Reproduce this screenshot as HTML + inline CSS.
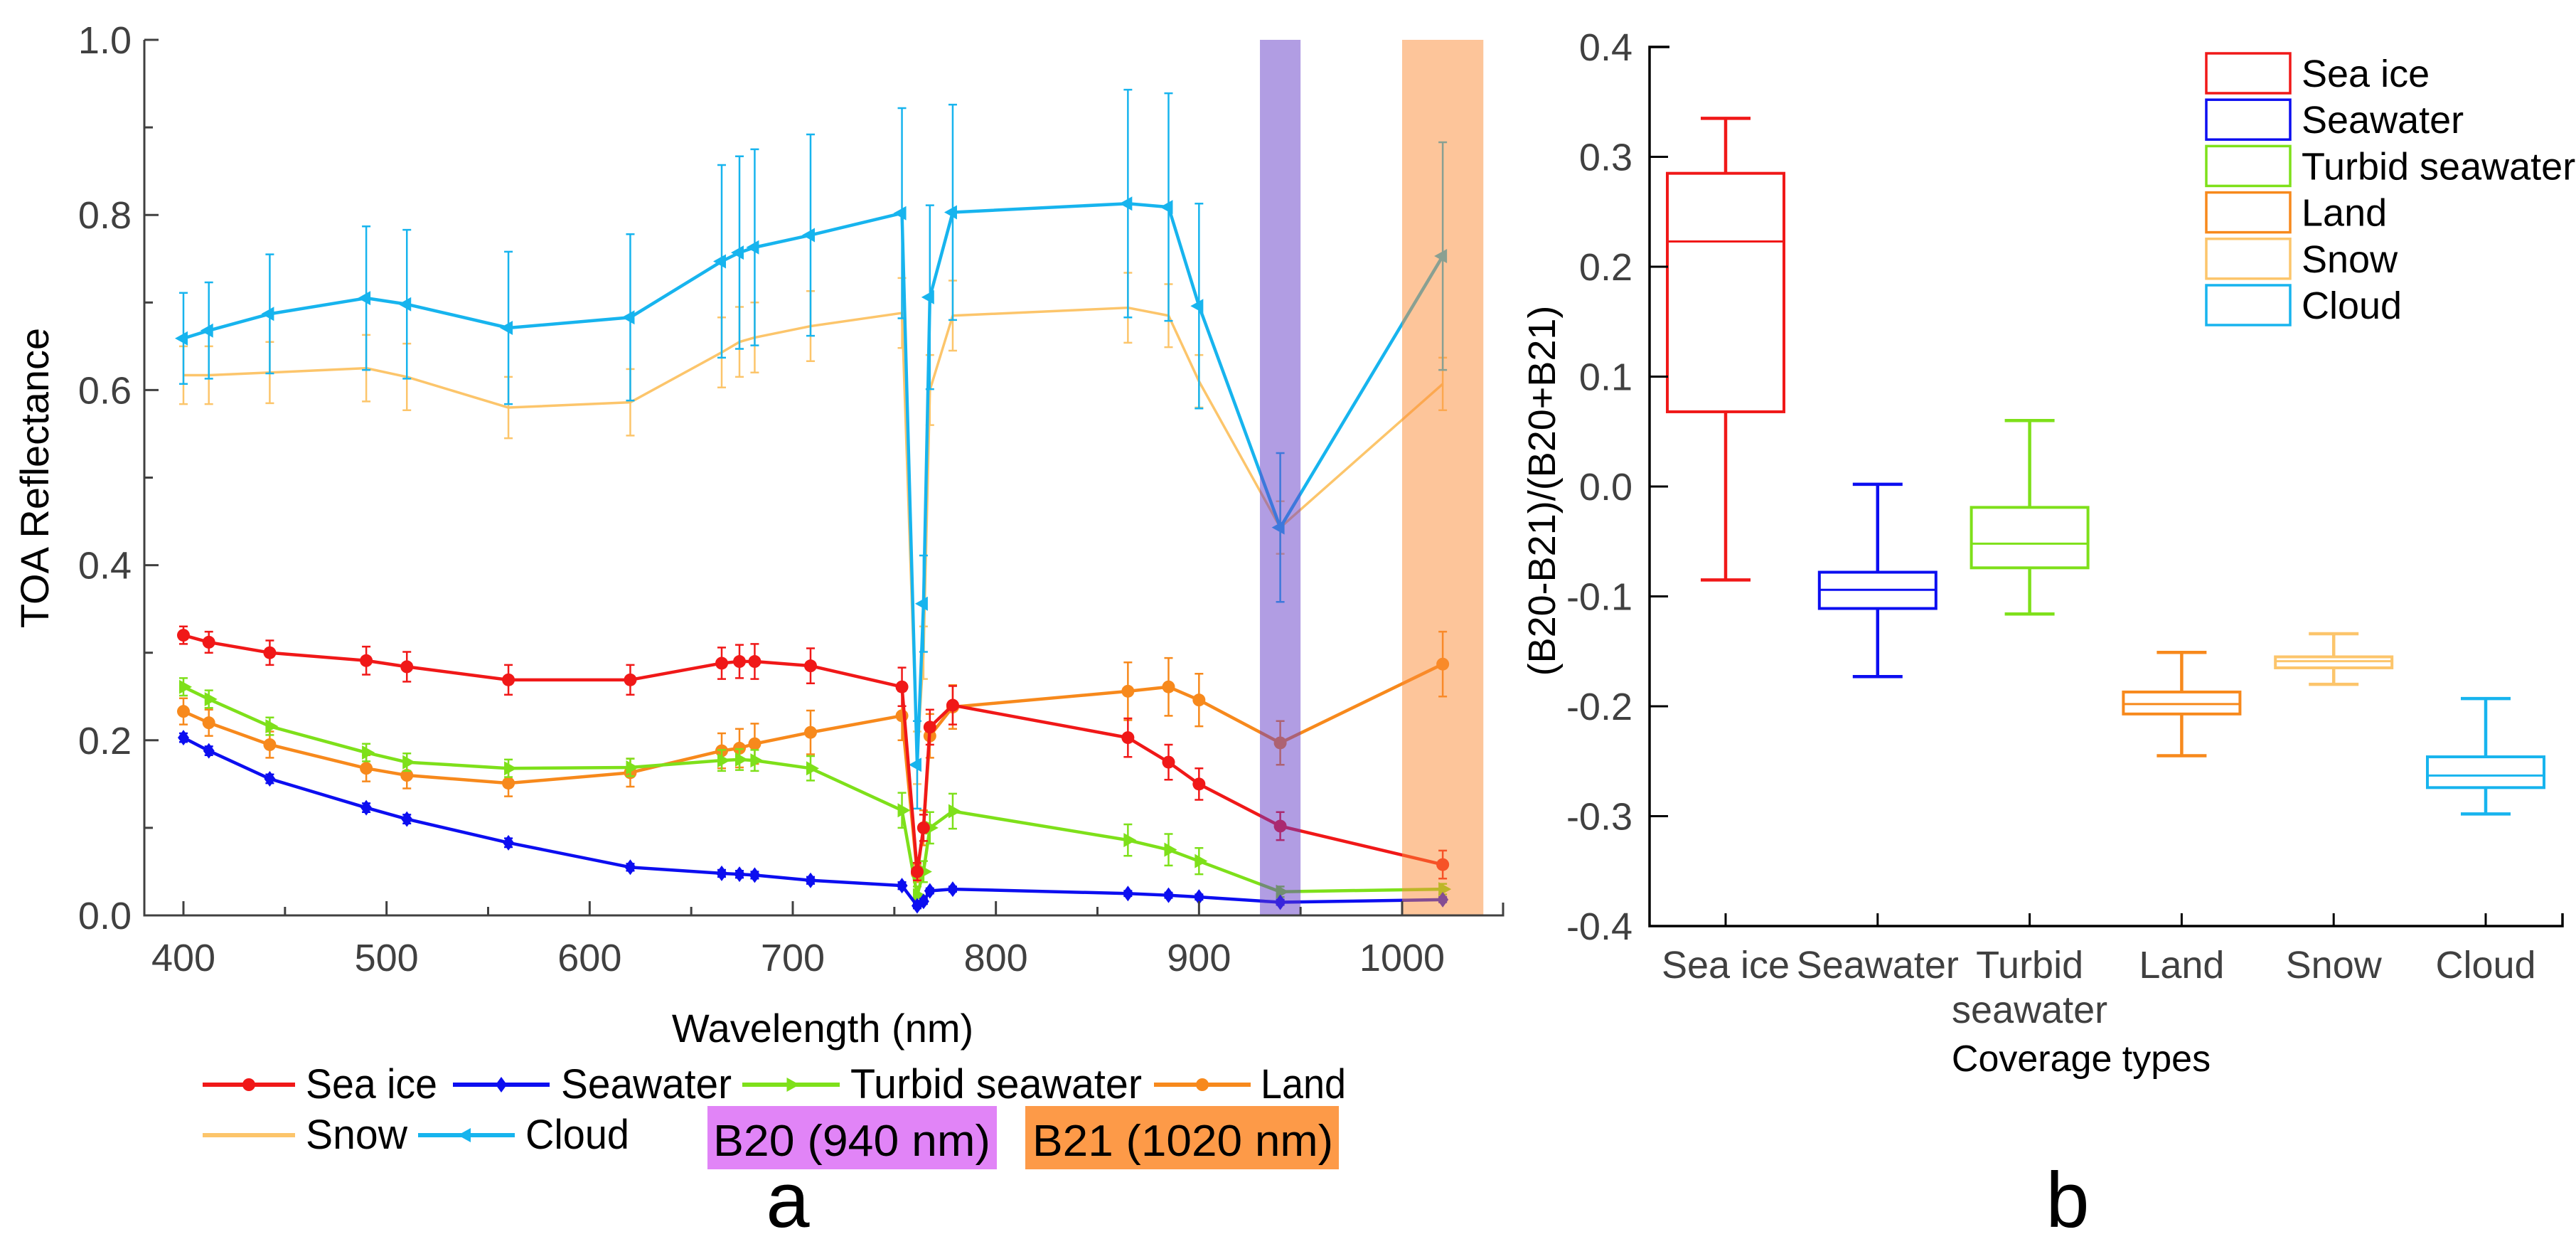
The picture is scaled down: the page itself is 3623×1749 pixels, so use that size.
<!DOCTYPE html>
<html><head><meta charset="utf-8">
<style>
html,body{margin:0;padding:0;background:#fff;}
svg{display:block;font-family:"Liberation Sans",Arial,sans-serif;}
</style></head>
<body>
<svg id="fig" width="3623" height="1749" viewBox="0 0 3623 1749" xmlns="http://www.w3.org/2000/svg">
<rect width="3623" height="1749" fill="#fff"/>
<g id="pa"></g>
<g id="pb"></g>
</svg>
<script>
const wavelengths=[400,412.5,442.5,490,510,560,620,665,673.75,681.25,708.75,753.75,761.25,764.375,767.5,778.75,865,885,900,940,1020];
const seaIce=[0.32,0.312,0.30,0.291,0.284,0.269,0.269,0.288,0.29,0.29,0.285,0.261,0.05,0.10,0.215,0.24,0.203,0.175,0.15,0.102,0.058];
const seaIceErr=[0.01,0.012,0.014,0.016,0.017,0.017,0.017,0.018,0.019,0.02,0.02,0.022,0.01,0.015,0.02,0.022,0.022,0.02,0.018,0.016,0.016];
const seawater=[0.203,0.188,0.156,0.123,0.11,0.083,0.055,0.048,0.047,0.046,0.04,0.034,0.011,0.016,0.028,0.03,0.025,0.023,0.021,0.015,0.018];
const seawaterErr=[0.005,0.005,0.005,0.005,0.005,0.005,0.004,0.004,0.004,0.004,0.004,0.004,0.003,0.003,0.003,0.003,0.003,0.003,0.003,0.003,0.003];
const turbid=[0.261,0.247,0.216,0.186,0.175,0.168,0.169,0.177,0.178,0.177,0.168,0.12,0.023,0.05,0.10,0.119,0.086,0.075,0.062,0.027,0.03];
const turbidErr=[0.01,0.01,0.01,0.01,0.01,0.01,0.01,0.012,0.012,0.012,0.014,0.02,0.01,0.012,0.018,0.02,0.018,0.018,0.015,0.006,0.006];
const land=[0.233,0.22,0.195,0.168,0.16,0.151,0.163,0.188,0.191,0.196,0.209,0.228,0.048,0.10,0.205,0.238,0.256,0.261,0.246,0.197,0.287];
const landErr=[0.015,0.015,0.015,0.015,0.015,0.015,0.016,0.02,0.022,0.023,0.025,0.028,0.01,0.02,0.025,0.025,0.033,0.033,0.03,0.025,0.037];
const snow=[0.617,0.617,0.62,0.625,0.615,0.58,0.586,0.643,0.655,0.66,0.673,0.688,0.18,0.30,0.60,0.685,0.694,0.685,0.61,0.443,0.607];
const snowErr=[0.033,0.033,0.035,0.038,0.038,0.035,0.038,0.04,0.04,0.04,0.04,0.04,0.03,0.03,0.04,0.04,0.04,0.036,0.03,0.03,0.03];
const cloud=[0.659,0.668,0.687,0.705,0.698,0.671,0.683,0.747,0.757,0.763,0.777,0.802,0.172,0.356,0.706,0.803,0.813,0.809,0.696,0.443,0.753];
const cloudErr=[0.052,0.055,0.068,0.082,0.085,0.087,0.095,0.11,0.11,0.112,0.115,0.12,0.05,0.055,0.105,0.123,0.13,0.13,0.117,0.085,0.13];
const yTicksA=["0.0","0.2","0.4","0.6","0.8","1.0"];
const xTicksA=[400,500,600,700,800,900,1000];

const categories=["Sea ice","Seawater","Turbid seawater","Land","Snow","Cloud"];
const whiskerHigh=[0.335,0.002,0.060,-0.151,-0.134,-0.193];
const q3=[0.285,-0.078,-0.019,-0.187,-0.155,-0.246];
const medians=[0.223,-0.094,-0.052,-0.198,-0.159,-0.263];
const q1=[0.068,-0.111,-0.074,-0.207,-0.165,-0.274];
const whiskerLow=[-0.085,-0.173,-0.116,-0.245,-0.180,-0.298];
const yTicksB=["-0.4","-0.3","-0.2","-0.1","0.0","0.1","0.2","0.3","0.4"];

const NS="http://www.w3.org/2000/svg";
function mk(parent,tag,attrs,text){const e=document.createElementNS(NS,tag);for(const k in attrs)e.setAttribute(k,attrs[k]);if(text!==undefined)e.textContent=text;parent.appendChild(e);return e;}

/* ---------- Panel a ---------- */
const pa=document.getElementById('pa');
const AX0=203,AX1=2114,AY0=1287,AY1=56;
const xA=w=>258+(w-400)*(1972-258)/600;
const yA=v=>AY0-v*(AY0-AY1);
const gray="#404040";
const seriesDefs=[
 {name:"sea-ice",vals:seaIce,err:seaIceErr,color:"#f01818",mark:"circle"},
 {name:"seawater",vals:seawater,err:seawaterErr,color:"#0c0ef0",mark:"diamond"},
 {name:"turbid-seawater",vals:turbid,err:turbidErr,color:"#7ee01a",mark:"right"},
 {name:"land",vals:land,err:landErr,color:"#f7891c",mark:"circle"},
 {name:"snow",vals:snow,err:snowErr,color:"#fcc56b",mark:"none"},
 {name:"cloud",vals:cloud,err:cloudErr,color:"#17b4ee",mark:"left"}
];
const order=[4,5,3,2,1,0];
function marker(g,type,x,y,color){
  if(type==="circle")return mk(g,'circle',{cx:x,cy:y,r:9,fill:color});
  if(type==="diamond")return mk(g,'polygon',{points:`${x},${y-11} ${x+8},${y} ${x},${y+11} ${x-8},${y}`,fill:color});
  if(type==="right")return mk(g,'polygon',{points:`${x+12},${y} ${x-6},${y-10} ${x-6},${y+10}`,fill:color});
  if(type==="left")return mk(g,'polygon',{points:`${x-12},${y} ${x+6},${y-10} ${x+6},${y+10}`,fill:color});
}
order.forEach(si=>{
  const s=seriesDefs[si];
  const g=mk(pa,'g',{});
  
  
  const sw=s.mark==="none"?3.5:4.5;
  s.vals.forEach((v,i)=>{
    const x=xA(wavelengths[i]),e=s.err[i];
    const eg=mk(g,'path',{d:`M${x},${yA(v+e)}V${yA(v-e)}M${x-6},${yA(v+e)}H${x+6}M${x-6},${yA(v-e)}H${x+6}`,stroke:s.color,'stroke-width':2.5,fill:'none'});
    
    
  });
  const pts=s.vals.map((v,i)=>xA(wavelengths[i])+','+yA(v)).join(' ');
  const pl=mk(g,'polyline',{points:pts,fill:'none',stroke:s.color,'stroke-width':sw,'stroke-linejoin':'round'});
  
  
  if(s.mark!=="none")s.vals.forEach((v,i)=>{
    const m=marker(g,s.mark,xA(wavelengths[i]),yA(v),s.color);
    
    
  });
});
const b20=mk(pa,'rect',{x:xA(930),y:AY1,width:xA(950)-xA(930),height:AY0-AY1,fill:'rgba(100,60,200,0.5)'});


const b21=mk(pa,'rect',{x:xA(1000),y:AY1,width:xA(1040)-xA(1000),height:AY0-AY1,fill:'rgba(251,139,53,0.5)'});


const axA=mk(pa,'path',{d:`M${AX0},${AY1}V${AY0}H${AX1}V${AY0-18}`,stroke:gray,'stroke-width':3,fill:'none'});


yTicksA.forEach(t=>{
  const y=yA(parseFloat(t));
  mk(pa,'line',{x1:AX0,x2:AX0+20,y1:y,y2:y,stroke:gray,'stroke-width':3});
  const tl=mk(pa,'text',{x:AX0-18,y:y+19,'text-anchor':'end','font-size':54,fill:gray},t);
  
  
  if(parseFloat(t)<1){const ym=yA(parseFloat(t)+0.1);mk(pa,'line',{x1:AX0,x2:AX0+12,y1:ym,y2:ym,stroke:gray,'stroke-width':3});}
});
xTicksA.forEach(t=>{
  const x=xA(t);
  mk(pa,'line',{x1:x,x2:x,y1:AY0,y2:AY0-20,stroke:gray,'stroke-width':3});
  const m=xA(t+50); if(m<AX1-5)mk(pa,'line',{x1:m,x2:m,y1:AY0,y2:AY0-12,stroke:gray,'stroke-width':3});
  const tl=mk(pa,'text',{x:x,y:AY0+78,'text-anchor':'middle','font-size':54,fill:gray},t);
  
  
});
const yt=mk(pa,'text',{x:0,y:0,transform:'translate(68,672) rotate(-90)','text-anchor':'middle','font-size':56,fill:'#000'},'TOA Reflectance');


const xt=mk(pa,'text',{x:1157,y:1465,'text-anchor':'middle','font-size':56,fill:'#000'},'Wavelength (nm)');


const legItems=[
 {s:0,x1:285,x2:415,tx:430,tw:185,y:1525,label:"Sea ice"},
 {s:1,x1:637,x2:773,tx:789,tw:240,y:1525,label:"Seawater"},
 {s:2,x1:1044,x2:1181,tx:1196,tw:410,y:1525,label:"Turbid seawater"},
 {s:3,x1:1623,x2:1759,tx:1773,tw:120,y:1525,label:"Land"},
 {s:4,x1:285,x2:415,tx:430,tw:143,y:1596,label:"Snow"},
 {s:5,x1:588,x2:724,tx:739,tw:146,y:1596,label:"Cloud"}
];
legItems.forEach(it=>{
  const s=seriesDefs[it.s];
  const g=mk(pa,'g',{});
  
  
  mk(g,'line',{x1:it.x1,x2:it.x2,y1:it.y,y2:it.y,stroke:s.color,'stroke-width':6});
  if(s.mark!=="none")marker(g,s.mark,(it.x1+it.x2)/2,it.y,s.color);
  mk(g,'text',{x:it.tx,y:it.y+19,'font-size':58,fill:'#000',textLength:it.tw,lengthAdjust:'spacingAndGlyphs'},it.label);
});
const lb20=mk(pa,'rect',{x:995,y:1555,width:407,height:89,fill:'#e184f7'});


const lt20=mk(pa,'text',{x:1003,y:1625,'font-size':62,fill:'#000',textLength:390,lengthAdjust:'spacingAndGlyphs'},'B20 (940 nm)');


const lb21=mk(pa,'rect',{x:1442,y:1555,width:441,height:89,fill:'#fd9a48'});


const lt21=mk(pa,'text',{x:1452,y:1625,'font-size':62,fill:'#000',textLength:423,lengthAdjust:'spacingAndGlyphs'},'B21 (1020 nm)');


const pla=mk(pa,'text',{x:1108,y:1725,'text-anchor':'middle','font-size':110,fill:'#000'},'a');



/* ---------- Panel b ---------- */
const pb=document.getElementById('pb');
const BX0=2320,BX1=3604,BY0=1302,BY1=66;
const yB=v=>BY0-(v+0.4)*(BY0-BY1)/0.8;
const xB=i=>2427+i*213.8;
const boxColors=["#f01818","#0c0ef0","#7ee01a","#f7891c","#fcc56b","#17b4ee"];
categories.forEach((c,i)=>{
  const g=mk(pb,'g',{});
  
  
  const x=xB(i),col=boxColors[i],hw=82,cw=35;
  mk(g,'path',{d:`M${x},${yB(whiskerHigh[i])}V${yB(q3[i])}M${x},${yB(q1[i])}V${yB(whiskerLow[i])}M${x-cw},${yB(whiskerHigh[i])}H${x+cw}M${x-cw},${yB(whiskerLow[i])}H${x+cw}`,stroke:col,'stroke-width':4.5,fill:'none'});
  mk(g,'rect',{x:x-hw,y:yB(q3[i]),width:2*hw,height:yB(q1[i])-yB(q3[i]),fill:'none',stroke:col,'stroke-width':4});
  mk(g,'line',{x1:x-hw,x2:x+hw,y1:yB(medians[i]),y2:yB(medians[i]),stroke:col,'stroke-width':3});
});
const axB=mk(pb,'path',{d:`M${BX0+28},${BY1}H${BX0}V${BY0}H${BX1}V${BY0-18}`,stroke:'#000','stroke-width':3.5,fill:'none'});


yTicksB.forEach(t=>{
  const y=yB(parseFloat(t));
  mk(pb,'line',{x1:BX0,x2:BX0+26,y1:y,y2:y,stroke:'#000','stroke-width':3});
  const tl=mk(pb,'text',{x:BX0-24,y:y+19,'text-anchor':'end','font-size':54,fill:gray},t);
  
  
});
const catLines=[["Sea ice"],["Seawater"],["Turbid","seawater"],["Land"],["Snow"],["Cloud"]];
categories.forEach((c,i)=>{
  const x=xB(i);
  mk(pb,'line',{x1:x,x2:x,y1:BY0,y2:BY0-18,stroke:'#000','stroke-width':3});
  catLines[i].forEach((ln,j)=>{
    const tl=mk(pb,'text',{x:x,y:1375+j*63,'text-anchor':'middle','font-size':54,fill:gray},ln);
    
    
  });
});
const xtb=mk(pb,'text',{x:2927,y:1506,'text-anchor':'middle','font-size':52,fill:'#000'},'Coverage types');


const ytb=mk(pb,'text',{x:0,y:0,transform:'translate(2187,690) rotate(-90)','text-anchor':'middle','font-size':54,fill:'#000'},'(B20-B21)/(B20+B21)');


categories.forEach((c,i)=>{
  const g=mk(pb,'g',{});
  
  
  const y=103+i*65.2;
  mk(g,'rect',{x:3103,y:y-28,width:118,height:56,fill:'none',stroke:boxColors[i],'stroke-width':3.5});
  mk(g,'text',{x:3237,y:y+19,'font-size':54,fill:'#000'},c);
});
const plb=mk(pb,'text',{x:2908,y:1725,'text-anchor':'middle','font-size':110,fill:'#000'},'b');


</script>
</body></html>
